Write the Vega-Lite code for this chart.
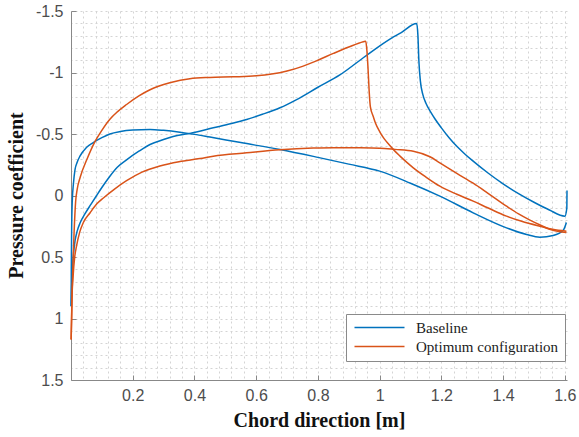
{
  "$schema": "https://vega.github.io/schema/vega-lite/v6.json",
  "width": 496,
  "height": 369,
  "autosize": {"type": "none"},
  "padding": {"left": 71, "top": 11, "right": 12, "bottom": 57},
  "background": "white",
  "config": {"view": {"stroke": null}},
  "datasets": {
    "cp": [
      {"s": "Baseline", "p": "A", "x": 0.0005, "c": 0.9},
      {"s": "Baseline", "p": "A", "x": 0.001, "c": 0.6},
      {"s": "Baseline", "p": "A", "x": 0.002, "c": 0.3},
      {"s": "Baseline", "p": "A", "x": 0.004, "c": 0.05},
      {"s": "Baseline", "p": "A", "x": 0.008, "c": -0.1},
      {"s": "Baseline", "p": "A", "x": 0.013, "c": -0.21},
      {"s": "Baseline", "p": "A", "x": 0.02, "c": -0.27},
      {"s": "Baseline", "p": "A", "x": 0.029, "c": -0.32},
      {"s": "Baseline", "p": "A", "x": 0.05, "c": -0.39},
      {"s": "Baseline", "p": "A", "x": 0.072, "c": -0.43},
      {"s": "Baseline", "p": "A", "x": 0.1, "c": -0.47},
      {"s": "Baseline", "p": "A", "x": 0.126, "c": -0.5},
      {"s": "Baseline", "p": "A", "x": 0.16, "c": -0.52},
      {"s": "Baseline", "p": "A", "x": 0.2, "c": -0.532},
      {"s": "Baseline", "p": "A", "x": 0.256, "c": -0.537},
      {"s": "Baseline", "p": "A", "x": 0.3, "c": -0.53},
      {"s": "Baseline", "p": "A", "x": 0.353, "c": -0.515},
      {"s": "Baseline", "p": "A", "x": 0.4, "c": -0.497},
      {"s": "Baseline", "p": "A", "x": 0.45, "c": -0.475},
      {"s": "Baseline", "p": "A", "x": 0.55, "c": -0.43},
      {"s": "Baseline", "p": "A", "x": 0.677, "c": -0.374},
      {"s": "Baseline", "p": "A", "x": 0.8, "c": -0.31},
      {"s": "Baseline", "p": "A", "x": 0.9, "c": -0.255},
      {"s": "Baseline", "p": "A", "x": 1.0, "c": -0.198},
      {"s": "Baseline", "p": "A", "x": 1.1, "c": -0.1},
      {"s": "Baseline", "p": "A", "x": 1.195, "c": 0.005},
      {"s": "Baseline", "p": "A", "x": 1.303, "c": 0.141},
      {"s": "Baseline", "p": "A", "x": 1.411, "c": 0.263},
      {"s": "Baseline", "p": "A", "x": 1.476, "c": 0.317},
      {"s": "Baseline", "p": "A", "x": 1.519, "c": 0.339},
      {"s": "Baseline", "p": "A", "x": 1.562, "c": 0.325},
      {"s": "Baseline", "p": "A", "x": 1.595, "c": 0.282},
      {"s": "Baseline", "p": "A", "x": 1.605, "c": 0.22},
      {"s": "Baseline", "p": "B", "x": 0.0005, "c": 0.9},
      {"s": "Baseline", "p": "B", "x": 0.002, "c": 0.75},
      {"s": "Baseline", "p": "B", "x": 0.005, "c": 0.58},
      {"s": "Baseline", "p": "B", "x": 0.009, "c": 0.45},
      {"s": "Baseline", "p": "B", "x": 0.013, "c": 0.37},
      {"s": "Baseline", "p": "B", "x": 0.02, "c": 0.29},
      {"s": "Baseline", "p": "B", "x": 0.03, "c": 0.22},
      {"s": "Baseline", "p": "B", "x": 0.045, "c": 0.15},
      {"s": "Baseline", "p": "B", "x": 0.065, "c": 0.07},
      {"s": "Baseline", "p": "B", "x": 0.083, "c": 0.0},
      {"s": "Baseline", "p": "B", "x": 0.1, "c": -0.065},
      {"s": "Baseline", "p": "B", "x": 0.126, "c": -0.157},
      {"s": "Baseline", "p": "B", "x": 0.15, "c": -0.23},
      {"s": "Baseline", "p": "B", "x": 0.18, "c": -0.29},
      {"s": "Baseline", "p": "B", "x": 0.22, "c": -0.36},
      {"s": "Baseline", "p": "B", "x": 0.256, "c": -0.415},
      {"s": "Baseline", "p": "B", "x": 0.3, "c": -0.455},
      {"s": "Baseline", "p": "B", "x": 0.331, "c": -0.48},
      {"s": "Baseline", "p": "B", "x": 0.385, "c": -0.505},
      {"s": "Baseline", "p": "B", "x": 0.461, "c": -0.55},
      {"s": "Baseline", "p": "B", "x": 0.52, "c": -0.585},
      {"s": "Baseline", "p": "B", "x": 0.569, "c": -0.618},
      {"s": "Baseline", "p": "B", "x": 0.62, "c": -0.66},
      {"s": "Baseline", "p": "B", "x": 0.677, "c": -0.713},
      {"s": "Baseline", "p": "B", "x": 0.731, "c": -0.78},
      {"s": "Baseline", "p": "B", "x": 0.8, "c": -0.88},
      {"s": "Baseline", "p": "B", "x": 0.871, "c": -0.98},
      {"s": "Baseline", "p": "B", "x": 0.947, "c": -1.12},
      {"s": "Baseline", "p": "B", "x": 1.022, "c": -1.254},
      {"s": "Baseline", "p": "B", "x": 1.07, "c": -1.325},
      {"s": "Baseline", "p": "B", "x": 1.12, "c": -1.398},
      {"s": "Baseline", "p": "B", "x": 1.124, "c": -1.3},
      {"s": "Baseline", "p": "B", "x": 1.127, "c": -1.1},
      {"s": "Baseline", "p": "B", "x": 1.132, "c": -0.93},
      {"s": "Baseline", "p": "B", "x": 1.14, "c": -0.82},
      {"s": "Baseline", "p": "B", "x": 1.15, "c": -0.75},
      {"s": "Baseline", "p": "B", "x": 1.165, "c": -0.68},
      {"s": "Baseline", "p": "B", "x": 1.18, "c": -0.62},
      {"s": "Baseline", "p": "B", "x": 1.2, "c": -0.55},
      {"s": "Baseline", "p": "B", "x": 1.225, "c": -0.47},
      {"s": "Baseline", "p": "B", "x": 1.25, "c": -0.4},
      {"s": "Baseline", "p": "B", "x": 1.275, "c": -0.34},
      {"s": "Baseline", "p": "B", "x": 1.3, "c": -0.285},
      {"s": "Baseline", "p": "B", "x": 1.35, "c": -0.185},
      {"s": "Baseline", "p": "B", "x": 1.4, "c": -0.095},
      {"s": "Baseline", "p": "B", "x": 1.45, "c": -0.015},
      {"s": "Baseline", "p": "B", "x": 1.5, "c": 0.055},
      {"s": "Baseline", "p": "B", "x": 1.55, "c": 0.118},
      {"s": "Baseline", "p": "B", "x": 1.6, "c": 0.168},
      {"s": "Baseline", "p": "B", "x": 1.6065, "c": 0.1},
      {"s": "Baseline", "p": "B", "x": 1.607, "c": -0.04},
      {"s": "Optimum configuration", "p": "A", "x": 0.0005, "c": 1.17},
      {"s": "Optimum configuration", "p": "A", "x": 0.002, "c": 1.0},
      {"s": "Optimum configuration", "p": "A", "x": 0.004, "c": 0.75},
      {"s": "Optimum configuration", "p": "A", "x": 0.007, "c": 0.5},
      {"s": "Optimum configuration", "p": "A", "x": 0.01, "c": 0.3},
      {"s": "Optimum configuration", "p": "A", "x": 0.015, "c": 0.05},
      {"s": "Optimum configuration", "p": "A", "x": 0.02, "c": -0.05},
      {"s": "Optimum configuration", "p": "A", "x": 0.03, "c": -0.15},
      {"s": "Optimum configuration", "p": "A", "x": 0.051, "c": -0.29},
      {"s": "Optimum configuration", "p": "A", "x": 0.078, "c": -0.44},
      {"s": "Optimum configuration", "p": "A", "x": 0.1, "c": -0.53},
      {"s": "Optimum configuration", "p": "A", "x": 0.126, "c": -0.62},
      {"s": "Optimum configuration", "p": "A", "x": 0.15, "c": -0.68},
      {"s": "Optimum configuration", "p": "A", "x": 0.18, "c": -0.74},
      {"s": "Optimum configuration", "p": "A", "x": 0.22, "c": -0.81},
      {"s": "Optimum configuration", "p": "A", "x": 0.256, "c": -0.86},
      {"s": "Optimum configuration", "p": "A", "x": 0.32, "c": -0.916},
      {"s": "Optimum configuration", "p": "A", "x": 0.385, "c": -0.95},
      {"s": "Optimum configuration", "p": "A", "x": 0.45, "c": -0.96},
      {"s": "Optimum configuration", "p": "A", "x": 0.526, "c": -0.965},
      {"s": "Optimum configuration", "p": "A", "x": 0.6, "c": -0.973},
      {"s": "Optimum configuration", "p": "A", "x": 0.65, "c": -0.987},
      {"s": "Optimum configuration", "p": "A", "x": 0.7, "c": -1.012},
      {"s": "Optimum configuration", "p": "A", "x": 0.75, "c": -1.05},
      {"s": "Optimum configuration", "p": "A", "x": 0.8, "c": -1.1},
      {"s": "Optimum configuration", "p": "A", "x": 0.85, "c": -1.155},
      {"s": "Optimum configuration", "p": "A", "x": 0.9, "c": -1.207},
      {"s": "Optimum configuration", "p": "A", "x": 0.947, "c": -1.25},
      {"s": "Optimum configuration", "p": "A", "x": 0.955, "c": -1.255},
      {"s": "Optimum configuration", "p": "A", "x": 0.958, "c": -1.2},
      {"s": "Optimum configuration", "p": "A", "x": 0.962, "c": -1.05},
      {"s": "Optimum configuration", "p": "A", "x": 0.966, "c": -0.85},
      {"s": "Optimum configuration", "p": "A", "x": 0.97, "c": -0.72},
      {"s": "Optimum configuration", "p": "A", "x": 0.979, "c": -0.645},
      {"s": "Optimum configuration", "p": "A", "x": 0.987, "c": -0.585},
      {"s": "Optimum configuration", "p": "A", "x": 1.0, "c": -0.52},
      {"s": "Optimum configuration", "p": "A", "x": 1.015, "c": -0.46},
      {"s": "Optimum configuration", "p": "A", "x": 1.03, "c": -0.415},
      {"s": "Optimum configuration", "p": "A", "x": 1.044, "c": -0.375},
      {"s": "Optimum configuration", "p": "A", "x": 1.066, "c": -0.32},
      {"s": "Optimum configuration", "p": "A", "x": 1.09, "c": -0.265},
      {"s": "Optimum configuration", "p": "A", "x": 1.109, "c": -0.225},
      {"s": "Optimum configuration", "p": "A", "x": 1.15, "c": -0.15},
      {"s": "Optimum configuration", "p": "A", "x": 1.195, "c": -0.076},
      {"s": "Optimum configuration", "p": "A", "x": 1.25, "c": -0.01},
      {"s": "Optimum configuration", "p": "A", "x": 1.303, "c": 0.046},
      {"s": "Optimum configuration", "p": "A", "x": 1.35, "c": 0.1},
      {"s": "Optimum configuration", "p": "A", "x": 1.411, "c": 0.168},
      {"s": "Optimum configuration", "p": "A", "x": 1.46, "c": 0.21},
      {"s": "Optimum configuration", "p": "A", "x": 1.519, "c": 0.25},
      {"s": "Optimum configuration", "p": "A", "x": 1.56, "c": 0.275},
      {"s": "Optimum configuration", "p": "A", "x": 1.605, "c": 0.29},
      {"s": "Optimum configuration", "p": "B", "x": 0.0005, "c": 1.17},
      {"s": "Optimum configuration", "p": "B", "x": 0.003, "c": 0.85},
      {"s": "Optimum configuration", "p": "B", "x": 0.007, "c": 0.65},
      {"s": "Optimum configuration", "p": "B", "x": 0.012, "c": 0.5},
      {"s": "Optimum configuration", "p": "B", "x": 0.018, "c": 0.41},
      {"s": "Optimum configuration", "p": "B", "x": 0.028, "c": 0.3},
      {"s": "Optimum configuration", "p": "B", "x": 0.04, "c": 0.22},
      {"s": "Optimum configuration", "p": "B", "x": 0.062, "c": 0.14},
      {"s": "Optimum configuration", "p": "B", "x": 0.083, "c": 0.07},
      {"s": "Optimum configuration", "p": "B", "x": 0.105, "c": 0.02},
      {"s": "Optimum configuration", "p": "B", "x": 0.14, "c": -0.05},
      {"s": "Optimum configuration", "p": "B", "x": 0.18, "c": -0.12},
      {"s": "Optimum configuration", "p": "B", "x": 0.23, "c": -0.19},
      {"s": "Optimum configuration", "p": "B", "x": 0.288, "c": -0.24},
      {"s": "Optimum configuration", "p": "B", "x": 0.35, "c": -0.275},
      {"s": "Optimum configuration", "p": "B", "x": 0.418, "c": -0.3},
      {"s": "Optimum configuration", "p": "B", "x": 0.461, "c": -0.32},
      {"s": "Optimum configuration", "p": "B", "x": 0.569, "c": -0.347},
      {"s": "Optimum configuration", "p": "B", "x": 0.677, "c": -0.372},
      {"s": "Optimum configuration", "p": "B", "x": 0.785, "c": -0.386},
      {"s": "Optimum configuration", "p": "B", "x": 0.85, "c": -0.389},
      {"s": "Optimum configuration", "p": "B", "x": 0.93, "c": -0.388},
      {"s": "Optimum configuration", "p": "B", "x": 1.0, "c": -0.385},
      {"s": "Optimum configuration", "p": "B", "x": 1.05, "c": -0.375},
      {"s": "Optimum configuration", "p": "B", "x": 1.109, "c": -0.36},
      {"s": "Optimum configuration", "p": "B", "x": 1.163, "c": -0.315},
      {"s": "Optimum configuration", "p": "B", "x": 1.195, "c": -0.266},
      {"s": "Optimum configuration", "p": "B", "x": 1.25, "c": -0.18},
      {"s": "Optimum configuration", "p": "B", "x": 1.303, "c": -0.1},
      {"s": "Optimum configuration", "p": "B", "x": 1.35, "c": -0.02},
      {"s": "Optimum configuration", "p": "B", "x": 1.411, "c": 0.087},
      {"s": "Optimum configuration", "p": "B", "x": 1.45, "c": 0.15},
      {"s": "Optimum configuration", "p": "B", "x": 1.487, "c": 0.2},
      {"s": "Optimum configuration", "p": "B", "x": 1.52, "c": 0.24},
      {"s": "Optimum configuration", "p": "B", "x": 1.551, "c": 0.275},
      {"s": "Optimum configuration", "p": "B", "x": 1.58, "c": 0.293},
      {"s": "Optimum configuration", "p": "B", "x": 1.605, "c": 0.3}
    ]
  },
  "data": {"name": "cp"},
  "layer": [
    {
      "mark": {"type": "line", "opacity": 0},
      "encoding": {
        "x": {
          "field": "x", "type": "quantitative",
          "scale": {"domain": [0, 1.607], "nice": false, "zero": false},
          "axis": {
            "orient": "top", "title": null, "labels": false, "ticks": false, "domain": false,
            "grid": true, "gridColor": "#d4d4d4", "gridDash": [2, 3], "gridWidth": 1,
            "values": [0.04,0.08,0.12,0.16,0.2,0.24,0.28,0.32,0.36,0.4,0.44,0.48,0.52,0.56,0.6,0.64,0.68,0.72,0.76,0.8,0.84,0.88,0.92,0.96,1,1.04,1.08,1.12,1.16,1.2,1.24,1.28,1.32,1.36,1.4,1.44,1.48,1.52,1.56,1.6]
          }
        },
        "y": {
          "field": "c", "type": "quantitative",
          "scale": {"domain": [-1.5, 1.5], "reverse": true, "nice": false, "zero": false},
          "axis": {
            "orient": "right", "title": null, "labels": false, "ticks": false, "domain": false,
            "grid": true, "gridColor": "#d4d4d4", "gridDash": [2, 3], "gridWidth": 1,
            "values": [-1.5,-1.4,-1.3,-1.2,-1.1,-1,-0.9,-0.8,-0.7,-0.6,-0.5,-0.4,-0.3,-0.2,-0.1,0,0.1,0.2,0.3,0.4,0.5,0.6,0.7,0.8,0.9,1,1.1,1.2,1.3,1.4]
          }
        },
        "detail": {"field": "p"}
      }
    },
    {
      "mark": {"type": "line", "strokeWidth": 1.5, "interpolate": "monotone"},
      "encoding": {
        "x": {
          "field": "x", "type": "quantitative",
          "scale": {"domain": [0, 1.607], "nice": false, "zero": false},
          "axis": {
            "orient": "bottom", "grid": false,
            "values": [0.2, 0.4, 0.6, 0.8, 1, 1.2, 1.4, 1.6],
            "labelExpr": "toString(datum.value)",
            "domainColor": "#888888", "tickColor": "#888888", "tickSize": -5, "labelPadding": 12,
            "labelFont": "Liberation Sans", "labelFontSize": 16, "labelColor": "#4d4d4d",
            "title": "Chord direction [m]", "titleFont": "Liberation Serif", "titleFontWeight": "bold",
            "titleFontSize": 20, "titleColor": "#111111", "titleX": 248, "titleY": 40, "titleBaseline": "middle"
          }
        },
        "y": {
          "field": "c", "type": "quantitative",
          "scale": {"domain": [-1.5, 1.5], "reverse": true, "nice": false, "zero": false},
          "axis": {
            "orient": "left", "grid": false,
            "values": [-1.5, -1, -0.5, 0, 0.5, 1, 1.5],
            "labelExpr": "toString(datum.value)",
            "domainColor": "#888888", "tickColor": "#888888", "tickSize": -5, "labelPadding": 13,
            "labelFont": "Liberation Sans", "labelFontSize": 16, "labelColor": "#4d4d4d",
            "title": "Pressure coefficient", "titleFont": "Liberation Serif", "titleFontWeight": "bold",
            "titleFontSize": 20, "titleColor": "#111111", "titleX": -55, "titleY": 184, "titleAngle": 270,
            "titleAlign": "center", "titleBaseline": "middle"
          }
        },
        "color": {
          "field": "s", "type": "nominal",
          "scale": {"domain": ["Baseline", "Optimum configuration"], "range": ["#0072BD", "#D95319"]},
          "legend": {
            "orient": "none", "legendX": 275, "legendY": 303, "title": null,
            "strokeColor": "#8a8a8a", "fillColor": "white", "padding": 6, "cornerRadius": 0,
            "symbolType": "M-1,0H9", "symbolSize": 100, "symbolStrokeWidth": 1.5,
            "labelFont": "Liberation Serif", "labelFontSize": 15, "labelColor": "#222222",
            "labelOffset": 49, "rowPadding": 3
          }
        },
        "detail": {"field": "p"}
      }
    }
  ],
  "resolve": {"axis": {"x": "independent", "y": "independent"}}
}
